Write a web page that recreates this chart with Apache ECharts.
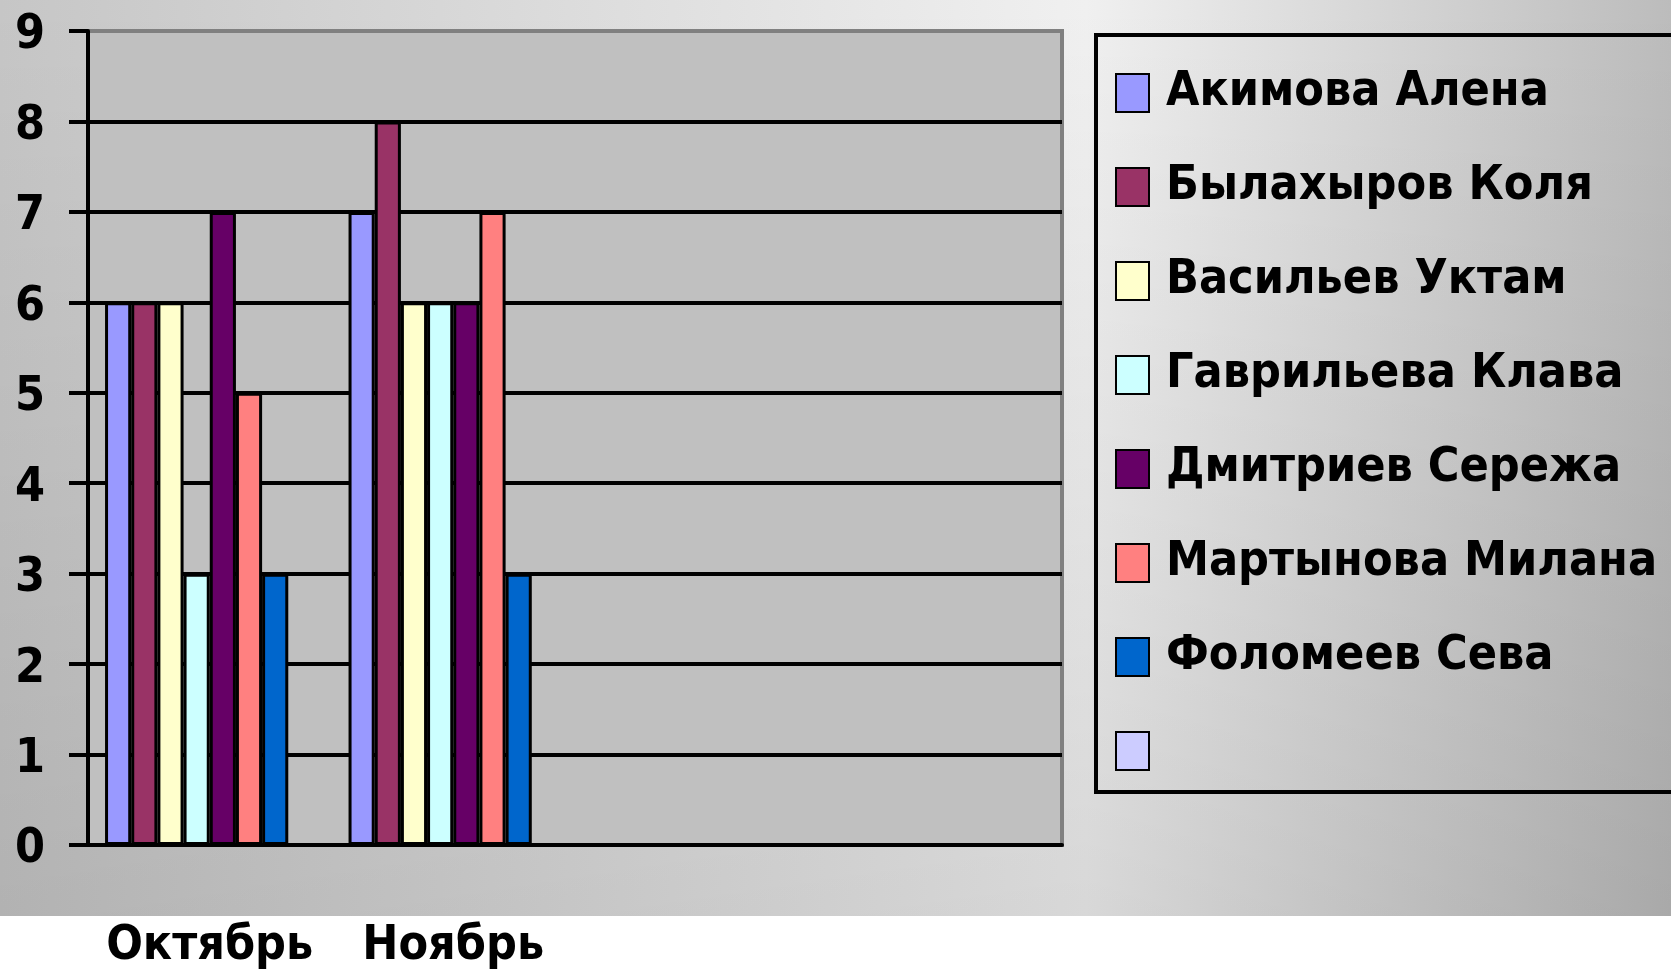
<!DOCTYPE html>
<html>
<head>
<meta charset="utf-8">
<script src="https://cdn.jsdelivr.net/npm/echarts@6/dist/echarts.min.js"></script>
<style>
  html, body { margin: 0; padding: 0; background: #fff; }
  #chart { width: 1671px; height: 971px; }
</style>
</head>
<body>
<div id="chart"></div>
<script>
    var months = ['Октябрь', 'Ноябрь', '', ''];
    var names = ['Акимова Алена', 'Былахыров Коля', 'Васильев Уктам', 'Гаврильева Клава',
                 'Дмитриев Сережа', 'Мартынова Милана', 'Фоломеев Сева', ' '];
    var colors = ['#9999ff', '#993366', '#ffffcc', '#ccffff', '#660066', '#ff8080', '#0066cc', '#ccccff'];

    var akimova   = [6, 7];
    var bylahyrov = [6, 8];
    var vasiliev  = [6, 6];
    var gavrilyeva = [3, 6];
    var dmitriev  = [7, 6];
    var martynova = [5, 7];
    var folomeev  = [3, 3];
    var empty     = [];
    var values = [akimova, bylahyrov, vasiliev, gavrilyeva, dmitriev, martynova, folomeev, empty];

    var yTicks = [0, 9, 1]; // min, max, interval

    var font = '"DejaVu Sans Condensed", "DejaVu Sans", sans-serif';

    var series = names.map(function(n, i){
        return {
            name: n,
            type: 'bar',
            data: values[i],
            barGap: '0%',
            barCategoryGap: '14%',
            itemStyle: {
                color: colors[i],
                borderColor: '#000',
                borderWidth: 3
            }
        };
    });

    var myChart = echarts.init(document.getElementById('chart'));
    var option = {
        backgroundColor: '#ffffff',
        animation: false,
        graphic: [
            {
                type: 'rect',
                z: -10,
                silent: true,
                shape: { x: 0, y: 0, width: 1671, height: 916 },
                style: {
                    fill: new echarts.graphic.LinearGradient(0, 0, 1, 0, [
                        { offset: 0, color: '#c6c6c6' },
                        { offset: 0.65, color: '#f0f0f0' },
                        { offset: 1, color: '#bcbcbc' }
                    ])
                }
            },
            {
                // darker toward the bottom
                type: 'rect',
                z: -9,
                silent: true,
                shape: { x: 0, y: 0, width: 1671, height: 916 },
                style: {
                    fill: new echarts.graphic.LinearGradient(0, 0, 0, 1, [
                        { offset: 0, color: 'rgba(0,0,0,0)' },
                        { offset: 1, color: 'rgba(0,0,0,0.1)' }
                    ])
                }
            }
        ],
        grid: {
            left: 88,
            top: 31,
            right: 609,
            bottom: 125,
            show: true,
            backgroundColor: '#c0c0c0',
            borderColor: '#808080',
            borderWidth: 4
        },
        legend: {
            orient: 'vertical',
            left: 1096,
            top: 35,
            data: names,
            icon: 'rect',
            itemWidth: 33,
            itemHeight: 38,
            itemGap: 46,
            padding: [34, 300, 17, 19],
            borderColor: '#000',
            borderWidth: 4,
            textStyle: {
                fontFamily: font,
                fontWeight: 'bold',
                fontSize: 48,
                lineHeight: 38,
                color: '#000',
                padding: [0, 0, 0, 12]
            }
        },
        xAxis: {
            type: 'category',
            data: months,
            axisLine: { lineStyle: { color: '#000', width: 4 } },
            axisTick: { length: 20, lineStyle: { color: '#000', width: 4 } },
            axisLabel: {
                interval: 0,
                margin: 78,
                fontFamily: font,
                fontWeight: 'bold',
                fontSize: 48,
                color: '#000'
            },
            splitLine: { show: false }
        },
        yAxis: {
            type: 'value',
            min: yTicks[0],
            max: yTicks[1],
            interval: yTicks[2],
            axisLine: { show: true, lineStyle: { color: '#000', width: 4 } },
            axisTick: { show: true, length: 19, lineStyle: { color: '#000', width: 4 } },
            axisLabel: {
                margin: 43,
                formatter: '{v|{value}}',
                rich: {
                    v: {
                        padding: [10, 0, 0, 0],
                        fontFamily: font,
                        fontWeight: 'bold',
                        fontSize: 48,
                        color: '#000'
                    }
                }
            },
            splitLine: {
                show: true,
                showMaxLine: false,
                lineStyle: { color: '#000', width: 4 }
            }
        },
        series: series
    };
    myChart.setOption(option);
</script>
</body>
</html>
